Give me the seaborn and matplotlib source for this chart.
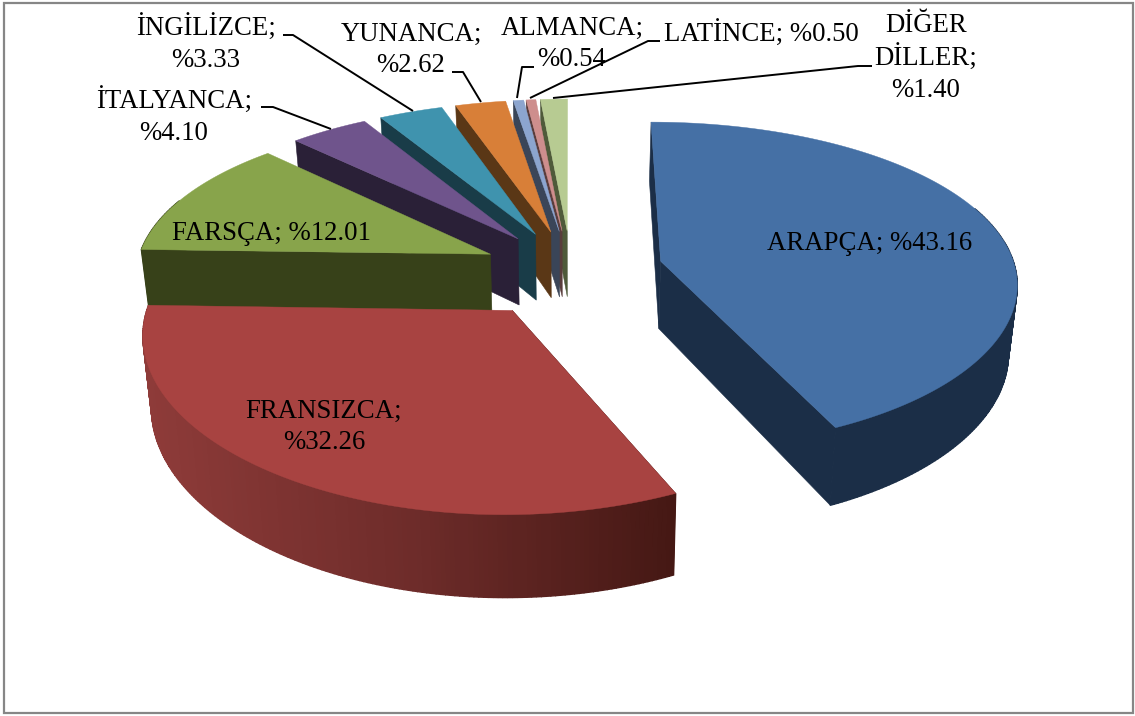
import numpy as np
import seaborn as sns
import matplotlib.pyplot as plt
from matplotlib.patches import Polygon, Rectangle

# Pie values
languages = ["ARAPÇA", "FRANSIZCA", "FARSÇA", "İTALYANCA", "İNGİLİZCE",
             "YUNANCA", "ALMANCA", "LATİNCE", "DİĞER DİLLER"]
shares = [43.16, 32.26, 12.01, 4.10, 3.33, 2.62, 0.54, 0.50, 1.40]
label_texts = ["ARAPÇA; %43.16", "FRANSIZCA;\n%32.26", "FARSÇA; %12.01",
               "İTALYANCA;\n%4.10", "İNGİLİZCE;\n%3.33", "YUNANCA;\n%2.62",
               "ALMANCA;\n%0.54", "LATİNCE; %0.50", "DİĞER\nDİLLER;\n%1.40"]

top_colors = sns.color_palette(["#4570A5", "#A84341", "#88A44B", "#6F548C", "#3F93AE",
                                "#D87F38", "#8CA5CF", "#CE8E8D", "#B7CB92"])
side_colors = sns.color_palette(["#1B2E47", "#451814", "#374119", "#2A2037", "#193C48",
                                 "#5A3716", "#3A4558", "#5A3D3C", "#4F5A3A"])

# Layout of the fake 3D pie (pixels)
CX, CY = 571, 270
RX, RY = 355, 161.6
PERSP_X = 0.12
PERSP_Y = 0.145
EXPLODE = [0.26, 0.29, 0.25, 0.25, 0.25, 0.25, 0.25, 0.25, 0.25]
DEPTH = 68
SHRINK = 0.98

sns.set_theme(style="white")
plt.rcParams["font.family"] = ["Liberation Serif", "DejaVu Serif"]


def project(theta, r, mid, explode):
    u = r * np.sin(theta) + explode * np.sin(mid)
    v = r * np.cos(theta) + explode * np.cos(mid)
    x = CX + RX * u / (1 + PERSP_X * v)
    s = 1 / (1 + PERSP_Y * v)
    y = CY - RY * v * s
    return x, y, CX + (x - CX) * SHRINK, y + DEPTH * s


fig = plt.figure(figsize=(11.35, 7.16), dpi=100)
ax = fig.add_axes([0, 0, 1, 1])
ax.set_xlim(0, 1135)
ax.set_ylim(716, 0)
ax.axis("off")

ax.add_patch(Rectangle((4, 3), 1129, 710, fill=False, ec="#868686", lw=1.6))

total = sum(shares)
edges = np.concatenate([[0], np.cumsum(shares)]) / total * 2 * np.pi
french_fade = sns.blend_palette(["#8E3B39", "#6E2C2A", "#451814"], 101)


def draw_slice(i):
    a0, a1 = edges[i], edges[i + 1]
    mid = (a0 + a1) / 2
    ex = EXPLODE[i]
    th = np.linspace(a0, a1, max(int(np.degrees(a1 - a0) * 1.5), 4))
    x, y, xb, yb = project(th, 1.0, mid, ex)
    ax0, ay0, bx0, by0 = project(0.0, 0.0, mid, ex)
    side = side_colors[i]

    # radial faces, the closing one only shows on the front half
    for k in (0, -1):
        if k == -1 and np.cos(a1) > 0:
            continue
        face = [(ax0, ay0), (x[k], y[k]), (xb[k], yb[k]), (bx0, by0)]
        ax.add_patch(Polygon(face, fc=side, ec=side, lw=0.4))

    # curved wall, the french slice fades from left to right
    for k in range(len(th) - 1):
        if np.cos(th[k]) > 0.35:
            continue
        col = side
        if languages[i] == "FRANSIZCA":
            col = french_fade[int(100 * (x[k] - x.min()) / (x.max() - x.min()))]
        quad = [(x[k], y[k]), (x[k + 1], y[k + 1]), (xb[k + 1], yb[k + 1]), (xb[k], yb[k])]
        ax.add_patch(Polygon(quad, fc=col, ec=col, lw=1.0))

    # top
    top = [(ax0, ay0)] + list(zip(x, y))
    ax.add_patch(Polygon(top, fc=top_colors[i], ec=top_colors[i], lw=0.3))


# back slices first
for i in [8, 7, 6, 5, 4, 3, 2, 0, 1]:
    draw_slice(i)

# Leader lines
leaders = [
    [(261, 107), (273, 107), (331, 129)],
    [(283, 35), (293, 35), (413, 111)],
    [(452, 72), (463, 72), (481, 102)],
    [(534, 67), (522, 67), (517, 98)],
    [(660, 41), (648, 41), (530, 98)],
    [(872, 66), (858, 66), (553, 98)],
]
for pts in leaders:
    xs, ys = zip(*pts)
    ax.plot(xs, ys, color="black", lw=1.4, solid_capstyle="butt")

# Labels
label_pos = [(870, 243), (324, 427), (271, 233), (174, 117), (206, 44),
              (411, 50), (572, 44), (761, 34), (926, 58)]
for txt, (lx, ly) in zip(label_texts, label_pos):
    ax.text(lx, ly, txt, ha="center", va="center", fontsize=19.3,
            color="black", linespacing=1.3)

plt.savefig("out.png", dpi=100)
